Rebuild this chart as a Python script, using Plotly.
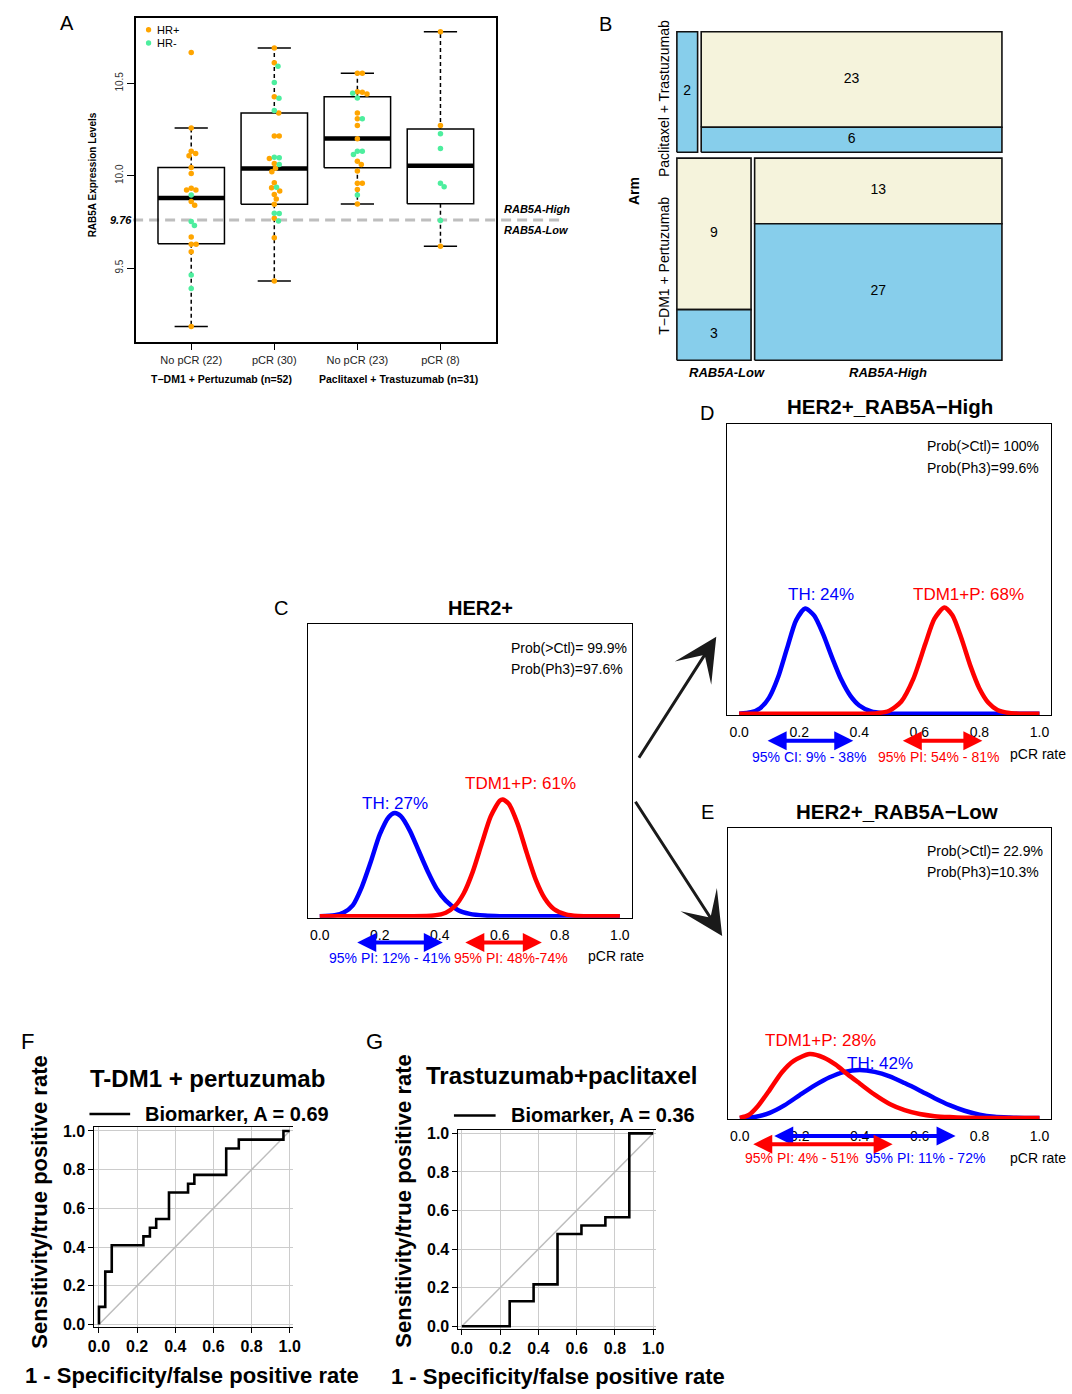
import numpy as np
import plotly.graph_objects as go

W, H = 1072, 1394
FONT = "Liberation Sans, Arial, Helvetica, sans-serif"
ORANGE = "#FFA500"
GREEN = "#4DEE9E"
BLUE = "#0000FF"
RED = "#FF0000"
BEIGE = "#F5F3DC"
SKY = "#87CEEB"


def px(x):
    return x / W


def py(y):
    return 1 - y / H


# ===================== DATA =====================
# ---- Panel A: RAB5A expression per arm / response
a_groups = ["No pCR (22)", "pCR (30)", "No pCR (23)", "pCR (8)"]
a_arms = ["T−DM1 + Pertuzumab (n=52)", "Paclitaxel + Trastuzumab (n=31)"]
a_q1 = [9.632, 9.846, 10.043, 9.849]
a_median = [9.880, 10.039, 10.202, 10.054]
a_q3 = [10.045, 10.339, 10.428, 10.253]
a_whisk_lo = [9.184, 9.430, 9.847, 9.618]
a_whisk_hi = [10.258, 10.691, 10.555, 10.780]
a_cutoff = 9.76
a_yticks = [9.5, 10.0, 10.5]

a_vals_tdm_nopcr = [10.667, 10.258, 10.132, 10.120, 10.108, 10.045, 10.012, 9.932, 9.923, 9.923, 9.896,
                    9.860, 9.840, 9.752, 9.731, 9.668, 9.629, 9.629, 9.589, 9.462, 9.389, 9.184]
a_hr_tdm_nopcr = list("++++++++++-++--++++--+")
a_vals_tdm_pcr = [10.691, 10.611, 10.593, 10.505, 10.428, 10.419, 10.353, 10.339, 10.215, 10.215, 10.100,
                  10.097, 10.093, 10.066, 10.061, 10.040, 10.022, 9.962, 9.938, 9.935, 9.917, 9.899, 9.874,
                  9.846, 9.797, 9.796, 9.770, 9.755, 9.664, 9.430]
a_hr_tdm_pcr = list("++--+--+++--++-+++-+++++--+-++")
a_vals_th_nopcr = [10.555, 10.555, 10.455, 10.452, 10.446, 10.442, 10.421, 10.340, 10.308, 10.308, 10.272,
                   10.200, 10.132, 10.132, 10.115, 10.078, 10.061, 10.025, 9.959, 9.959, 9.926, 9.896, 9.847]
a_hr_th_nopcr = list("++++-+-++-++---++++++-+")
a_vals_th_pcr = [10.780, 10.272, 10.227, 10.147, 9.959, 9.941, 9.758, 9.618]
a_hr_th_pcr = list("++-----+")

# ---- Panel B: mosaic counts  [arm][RAB5A level]
b_arms = ["Paclitaxel + Trastuzumab", "T−DM1 + Pertuzumab"]
b_levels = ["RAB5A-Low", "RAB5A-High"]
b_nopcr = [[0, 23], [9, 13]]
b_pcr = [[2, 6], [3, 27]]
b_outcome_labels = [["no pCR", "pCR"], ["No pCR", "pCR"]]

# ---- Panels C/D/E: posterior pCR-rate densities
c_th_x = [0, 0.05, 0.08, 0.11, 0.14, 0.17, 0.2, 0.23, 0.25, 0.27, 0.3, 0.33, 0.36, 0.39, 0.42, 0.46, 0.5, 0.55, 0.6, 0.8, 1.0]
c_th_y = [0, 0.05, 0.19, 0.56, 1.5, 2.8, 4.2, 5.1, 5.3, 5.14, 4.4, 3.35, 2.3, 1.4, 0.8, 0.32, 0.12, 0.03, 0, 0, 0]
c_tdm_x = [0, 0.3, 0.38, 0.42, 0.45, 0.48, 0.51, 0.54, 0.57, 0.6, 0.61, 0.63, 0.66, 0.69, 0.72, 0.75, 0.78, 0.82, 0.86, 0.9, 1.0]
c_tdm_y = [0, 0, 0.04, 0.18, 0.51, 1.18, 2.29, 3.74, 5.14, 5.94, 6.0, 5.77, 4.72, 3.24, 1.87, 0.91, 0.37, 0.09, 0.01, 0, 0]

d_th_x = [0, 0.04, 0.07, 0.1, 0.13, 0.16, 0.19, 0.22, 0.25, 0.28, 0.31, 0.34, 0.37, 0.4, 0.44, 0.48, 0.52, 0.6, 1.0]
d_th_y = [0, 0.08, 0.29, 0.84, 1.9, 3.41, 4.85, 5.45, 5.08, 4.11, 2.89, 1.77, 0.94, 0.43, 0.12, 0.03, 0, 0, 0]
d_tdm_x = [0, 0.4, 0.46, 0.5, 0.54, 0.58, 0.62, 0.65, 0.683, 0.71, 0.74, 0.77, 0.8, 0.83, 0.86, 0.9, 0.95, 1.0]
d_tdm_y = [0, 0, 0.03, 0.16, 0.64, 1.81, 3.62, 4.91, 5.5, 5.1, 3.91, 2.48, 1.31, 0.57, 0.2, 0.04, 0, 0]

e_th_x = [0, 0.05, 0.1, 0.15, 0.2, 0.25, 0.3, 0.35, 0.4, 0.45, 0.5, 0.55, 0.6, 0.65, 0.7, 0.75, 0.8, 0.85, 0.9, 0.95, 1.0]
e_th_y = [0, 0.05, 0.26, 0.66, 1.18, 1.68, 2.1, 2.38, 2.47, 2.38, 2.15, 1.8, 1.42, 1.02, 0.66, 0.37, 0.17, 0.06, 0.02, 0, 0]
e_tdm_x = [0, 0.03, 0.06, 0.1, 0.14, 0.18, 0.233, 0.28, 0.32, 0.36, 0.4, 0.45, 0.5, 0.55, 0.6, 0.65, 0.7, 0.75, 0.8, 1.0]
e_tdm_y = [0, 0.15, 0.6, 1.45, 2.35, 2.95, 3.3, 3.12, 2.75, 2.25, 1.78, 1.2, 0.72, 0.4, 0.2, 0.09, 0.04, 0.01, 0, 0]

c_th_int = [0.12, 0.41]
c_tdm_int = [0.48, 0.74]
d_th_int = [0.09, 0.38]
d_tdm_int = [0.54, 0.81]
e_th_int = [0.11, 0.72]
e_tdm_int = [0.04, 0.51]

dist_ticks = [0.0, 0.2, 0.4, 0.6, 0.8, 1.0]

# ---- Panels F/G: ROC curves
f_fpr = [0.0, 0.033, 0.067, 0.233, 0.267, 0.300, 0.367, 0.467, 0.500, 0.667, 0.733, 0.967, 1.0]
f_tpr = [0.0, 0.091, 0.273, 0.409, 0.455, 0.500, 0.545, 0.682, 0.727, 0.773, 0.909, 0.955, 1.0]
g_fpr = [0.0, 0.25, 0.375, 0.5, 0.625, 0.75, 0.875, 1.0]
g_tpr = [0.0, 0.13, 0.217, 0.478, 0.522, 0.565, 1.0, 1.0]
roc_auc = [0.69, 0.36]
roc_ticks = [0.0, 0.2, 0.4, 0.6, 0.8, 1.0]

# ===================== FIGURE =====================
fig = go.Figure()
ann = []
shapes = []


def label(x, y, text, size, color="black", bold=False, italic=False, xanchor="center",
          yanchor="middle", angle=0):
    t = text
    if bold:
        t = "<b>" + t + "</b>"
    if italic:
        t = "<i>" + t + "</i>"
    ann.append(dict(x=px(x), y=py(y), xref="paper", yref="paper", text=t, showarrow=False,
                    font=dict(size=size, color=color, family=FONT), xanchor=xanchor,
                    yanchor=yanchor, textangle=angle))


# ---------- Panel A ----------
A_DOM_X = (130, 495)
A_DOM_Y = (12.7, 339.3)
A_RX = (0.336, 4.664)
A_RY = (9.102, 10.856)

bx, by, wx, wy, cx, cy, mx, my = [], [], [], [], [], [], [], []
for i in range(4):
    g = i + 1
    bx += [g - 0.4, g + 0.4, g + 0.4, g - 0.4, g - 0.4, None]
    by += [a_q1[i], a_q1[i], a_q3[i], a_q3[i], a_q1[i], None]
    wx += [g, g, None, g, g, None]
    wy += [a_q3[i], a_whisk_hi[i], None, a_q1[i], a_whisk_lo[i], None]
    cx += [g - 0.2, g + 0.2, None, g - 0.2, g + 0.2, None]
    cy += [a_whisk_hi[i], a_whisk_hi[i], None, a_whisk_lo[i], a_whisk_lo[i], None]
    mx += [g - 0.4, g + 0.4, None]
    my += [a_median[i], a_median[i], None]

common = dict(mode="lines", showlegend=False, hoverinfo="skip", xaxis="x", yaxis="y")
fig.add_trace(go.Scatter(x=wx, y=wy, line=dict(color="black", width=1.5, dash="4px,3px"), **common))
fig.add_trace(go.Scatter(x=cx, y=cy, line=dict(color="black", width=1.5), **common))
fig.add_trace(go.Scatter(x=bx, y=by, line=dict(color="black", width=1.5), **common))
fig.add_trace(go.Scatter(x=mx, y=my, line=dict(color="black", width=4.5), **common))

y_scale = (A_DOM_Y[1] - A_DOM_Y[0]) / (A_RY[1] - A_RY[0])
x_scale = (A_DOM_X[1] - A_DOM_X[0]) / (A_RX[1] - A_RX[0])


def swarm_offsets(vals, ys, xs, diam=5.0):
    vals = np.asarray(vals, float)
    order = np.argsort(-vals, kind="stable")
    steps = [0.0]
    for k in range(1, 200):
        steps += [k * 0.25, -k * 0.25]
    placed = []
    offs = np.zeros(len(vals))
    for i in order:
        y = vals[i] * ys
        chosen = 0.0
        for s in steps:
            if all((s - xo) ** 2 + (y - yo) ** 2 >= diam ** 2 for xo, yo in placed):
                chosen = s
                break
        placed.append((chosen, y))
        offs[i] = chosen / xs
    return offs


a_all_vals = [a_vals_tdm_nopcr, a_vals_tdm_pcr, a_vals_th_nopcr, a_vals_th_pcr]
a_all_hr = [a_hr_tdm_nopcr, a_hr_tdm_pcr, a_hr_th_nopcr, a_hr_th_pcr]
pts = {"+": ([], []), "-": ([], [])}
for gi, (vals, hrs) in enumerate(zip(a_all_vals, a_all_hr)):
    offs = swarm_offsets(vals, y_scale, x_scale)
    for v, h, o in zip(vals, hrs, offs):
        pts[h][0].append(gi + 1 + o)
        pts[h][1].append(v)
for h, col, nm in [("+", ORANGE, "HR+"), ("-", GREEN, "HR-")]:
    fig.add_trace(go.Scatter(x=pts[h][0], y=pts[h][1], mode="markers", name=nm,
                             marker=dict(color=col, size=5.5, line=dict(width=0)),
                             xaxis="x", yaxis="y", showlegend=False, hoverinfo="skip"))

shapes.append(dict(type="line", xref="paper", yref="y", x0=px(127), x1=px(560), y0=a_cutoff, y1=a_cutoff,
                   line=dict(color="#BEBEBE", width=3, dash="10px,6px"), layer="below"))
for yy, col, nm in [(25, ORANGE, "HR+"), (38.3, GREEN, "HR-")]:
    shapes.append(dict(type="circle", xref="paper", yref="paper", x0=px(140), x1=px(145.4),
                       y0=py(yy + 2.7), y1=py(yy - 2.7), fillcolor=col, line=dict(width=0)))
    label(149.5, yy, nm, 11, xanchor="left")

label(60, 18, "A", 20)
label(86, 171, "RAB5A Expression Levels", 10, bold=True, angle=-90)
label(115, 217, "9.76", 11, bold=True, italic=True)
label(501, 206, "RAB5A-High", 11, bold=True, italic=True, xanchor="left")
label(501, 226.7, "RAB5A-Low", 11, bold=True, italic=True, xanchor="left")
label(216.7, 376.7, a_arms[0], 10.5, bold=True)
label(396.7, 376.7, a_arms[1], 10.5, bold=True)

# ---------- Panel B ----------
N_tot = sum(sum(r) for r in b_nopcr) + sum(sum(r) for r in b_pcr)
gap_r, gap_c = 0.018, 0.011
y_top = 1.0
tx, ty, tt = [], [], []
for a in range(2):
    n_arm = sum(b_nopcr[a]) + sum(b_pcr[a])
    h = (1 - gap_r) * n_arm / N_tot
    y_bot = y_top - h
    x_left = 0.0
    for l in range(2):
        n_al = b_nopcr[a][l] + b_pcr[a][l]
        w = (1 - gap_c) * n_al / n_arm
        x0, x1 = x_left, x_left + w
        y_split = y_top - h * b_nopcr[a][l] / n_al
        for (ya, yb, n, col) in [(y_split, y_top, b_nopcr[a][l], BEIGE), (y_bot, y_split, b_pcr[a][l], SKY)]:
            if n == 0:
                continue
            fig.add_trace(go.Scatter(x=[x0, x1, x1, x0, x0], y=[ya, ya, yb, yb, ya], mode="lines",
                                     fill="toself", fillcolor=col, line=dict(color="#111111", width=1.6),
                                     xaxis="x2", yaxis="y2", showlegend=False, hoverinfo="skip"))
            tx.append((x0 + x1) / 2)
            ty.append((ya + yb) / 2)
            tt.append(str(n))
        if l == 1:
            for (ya, yb, lab) in [(y_split, y_top, b_outcome_labels[a][0]), (y_bot, y_split, b_outcome_labels[a][1])]:
                ann.append(dict(x=1.036, y=(ya + yb) / 2, xref="x2", yref="y2", text=lab, showarrow=False,
                                textangle=-90, font=dict(size=14, family=FONT, color="black")))
        x_left = x1 + gap_c
    y_top = y_bot - gap_r
fig.add_trace(go.Scatter(x=tx, y=ty, text=tt, mode="text", textfont=dict(size=14, family=FONT, color="black"),
                         xaxis="x2", yaxis="y2", showlegend=False, hoverinfo="skip"))

label(607, 19, "B", 20)
label(635, 188, "Arm", 14, bold=True, angle=-90)
label(665.7, 94, b_arms[0], 14, angle=-90)
label(665.7, 263, b_arms[1], 14, angle=-90)
label(730, 370, b_levels[0], 13, bold=True, italic=True)
label(893, 370, b_levels[1], 13, bold=True, italic=True)

# ---------- Panels C / D / E ----------
dist_panels = [
    ("3", c_th_x, c_th_y, c_tdm_x, c_tdm_y),
    ("4", d_th_x, d_th_y, d_tdm_x, d_tdm_y),
    ("5", e_th_x, e_th_y, e_tdm_x, e_tdm_y),
]
for k, thx, thy, tdx, tdy in dist_panels:
    for xx, yy, col in [(thx, thy, BLUE), (tdx, tdy, RED)]:
        fig.add_trace(go.Scatter(x=xx, y=yy, mode="lines", line=dict(color=col, width=4.5, shape="spline",
                                                                     smoothing=0.7),
                                 xaxis="x" + k, yaxis="y" + k, showlegend=False, hoverinfo="skip"))


def dbl_arrow(k, ydom, lo, hi, color):
    ann.append(dict(x=hi, y=ydom, ax=lo, ay=ydom, xref="x" + k, yref="y%s domain" % k,
                    axref="x" + k, ayref="y%s domain" % k, text="", showarrow=True,
                    arrowhead=2, startarrowhead=2, arrowside="end+start", arrowsize=0.95,
                    startarrowsize=0.95, arrowwidth=4, arrowcolor=color, standoff=0, startstandoff=0))


dbl_arrow("3", -0.0845, c_th_int[0], c_th_int[1], BLUE)
dbl_arrow("3", -0.0845, c_tdm_int[0], c_tdm_int[1], RED)
dbl_arrow("4", -0.0875, d_th_int[0], d_th_int[1], BLUE)
dbl_arrow("4", -0.0875, d_tdm_int[0], d_tdm_int[1], RED)
dbl_arrow("5", -0.057, e_th_int[0], e_th_int[1], BLUE)
dbl_arrow("5", -0.085, e_tdm_int[0], e_tdm_int[1], RED)

# C labels
label(277, 608.3, "C", 20)
label(480, 608.3, "HER2+", 20, bold=True)
label(509, 647.7, "Prob(>Ctl)= 99.9%", 14, xanchor="left")
label(509, 669, "Prob(Ph3)=97.6%", 14, xanchor="left")
label(392.7, 805, "TH: 27%", 17, color=BLUE)
label(520, 784.3, "TDM1+P: 61%", 17, color=RED)
label(387.5, 961, "95% PI: 12% - 41%", 14, color=BLUE)
label(511, 961, "95% PI: 48%-74%", 14, color=RED)
label(617, 958.3, "pCR rate", 14)

# D labels
label(710, 411.7, "D", 20)
label(895.8, 405, "HER2+_RAB5A−High", 20.5, bold=True)
label(931, 444.3, "Prob(>Ctl)= 100%", 14, xanchor="left")
label(931, 467, "Prob(Ph3)=99.6%", 14, xanchor="left")
label(825, 594, "TH: 24%", 17, color=BLUE)
label(975, 594, "TDM1+P: 68%", 17, color=RED)
label(812.7, 758, "95% CI: 9% - 38%", 14, color=BLUE)
label(945, 758, "95% PI: 54% - 81%", 14, color=RED)
label(1015, 755, "pCR rate", 14, xanchor="left")

# E labels
label(710, 813.3, "E", 20)
label(902, 813, "HER2+_RAB5A−Low", 20.5, bold=True)
label(931, 852.3, "Prob(>Ctl)= 22.9%", 14, xanchor="left")
label(931, 874, "Prob(Ph3)=10.3%", 14, xanchor="left")
label(825, 1043.3, "TDM1+P: 28%", 17, color=RED)
label(885.7, 1066.7, "TH: 42%", 17, color=BLUE)
label(806, 1162.3, "95% PI: 4% - 51%", 14, color=RED)
label(930.7, 1162.3, "95% PI: 11% - 72%", 14, color=BLUE)
label(1015, 1161.7, "pCR rate", 14, xanchor="left")

# big black arrows C -> D, C -> E
for (tipx, tipy, tailx, taily) in [(719, 636.7, 640.7, 759.3), (725, 938.3, 637.3, 802.7)]:
    ann.append(dict(x=px(tipx), y=py(tipy), xref="paper", yref="paper", ax=tailx - tipx, ay=taily - tipy,
                    axref="pixel", ayref="pixel", text="", showarrow=True, arrowhead=3, arrowsize=2.4,
                    arrowwidth=3, arrowcolor="#1a1a1a", standoff=0))

# ---------- Panels F / G ----------
fig.add_trace(go.Scatter(x=[0, 1], y=[0, 1], mode="lines", line=dict(color="#BDBDBD", width=1.5),
                         xaxis="x6", yaxis="y6", showlegend=False, hoverinfo="skip"))
fig.add_trace(go.Scatter(x=f_fpr, y=f_tpr, mode="lines", line=dict(color="black", width=2.6, shape="vh"),
                         xaxis="x6", yaxis="y6", showlegend=False, hoverinfo="skip"))
fig.add_trace(go.Scatter(x=[0, 1], y=[0, 1], mode="lines", line=dict(color="#BDBDBD", width=1.5),
                         xaxis="x7", yaxis="y7", showlegend=False, hoverinfo="skip"))
fig.add_trace(go.Scatter(x=g_fpr, y=g_tpr, mode="lines", line=dict(color="black", width=2.6, shape="hv"),
                         xaxis="x7", yaxis="y7", showlegend=False, hoverinfo="skip"))

label(20, 1045, "F", 22)
label(372, 1045, "G", 22)
label(202.5, 1082, "T-DM1 + pertuzumab", 24, bold=True)
label(561.7, 1079, "Trastuzumab+paclitaxel", 24, bold=True)
shapes.append(dict(type="line", xref="paper", yref="paper", x0=px(82.7), x1=px(124), y0=py(1117.7),
                   y1=py(1117.7), line=dict(color="black", width=2.5)))
shapes.append(dict(type="line", xref="paper", yref="paper", x0=px(452.7), x1=px(495), y0=py(1119.3),
                   y1=py(1119.3), line=dict(color="black", width=2.5)))
label(137.3, 1117.7, "Biomarker, A = %.2f" % roc_auc[0], 20, bold=True, xanchor="left")
label(508.3, 1119.3, "Biomarker, A = %.2f" % roc_auc[1], 20, bold=True, xanchor="left")
label(31.7, 1207, "Sensitivity/true positive rate", 22, bold=True, angle=-90)
label(401.7, 1205.5, "Sensitivity/true positive rate", 22, bold=True, angle=-90)
label(186.7, 1381, "1 - Specificity/false positive rate", 22, bold=True)
label(558, 1382, "1 - Specificity/false positive rate", 22, bold=True)

# ===================== AXES =====================
def dom_x(l, r):
    return [px(l), px(r)]


def dom_y(t, b):
    return [py(b), py(t)]


base = dict(showgrid=False, zeroline=False)
layout_axes = {}
layout_axes["xaxis"] = dict(base, domain=dom_x(*A_DOM_X), range=list(A_RX), anchor="y",
                            tickvals=[1, 2, 3, 4], ticktext=a_groups, ticks="outside", ticklen=7,
                            tickcolor="black", showline=True, mirror=True, linecolor="black", linewidth=1.5,
                            tickfont=dict(size=11, family=FONT, color="#222"))
layout_axes["yaxis"] = dict(base, domain=dom_y(*A_DOM_Y), range=list(A_RY), anchor="x",
                            tickvals=a_yticks, ticktext=["%.1f" % v for v in a_yticks], tickangle=-90,
                            ticks="outside", ticklen=7, tickcolor="black", showline=True, mirror=True,
                            linecolor="black", linewidth=1.5, tickfont=dict(size=10, family=FONT, color="#333"))
# B
layout_axes["xaxis2"] = dict(base, domain=dom_x(674, 1014), range=[-5 / 330, 1 + 5 / 330], anchor="y2",
                             showticklabels=False, ticks="", showline=False)
layout_axes["yaxis2"] = dict(base, domain=dom_y(22, 363), range=[-5 / 331, 1 + 5 / 331], anchor="x2",
                             showticklabels=False, ticks="", showline=False)
# C/D/E
dist_dom = {"3": ((304.3, 633.3), (624.3, 920)),
            "4": ((730, 1059.3), (422.3, 716)),
            "5": ((730.7, 1059.3), (829.3, 1123.3))}
for k, ((l, r), (t, b)) in dist_dom.items():
    layout_axes["xaxis" + k] = dict(base, domain=dom_x(l, r), range=[-0.04, 1.04], anchor="y" + k,
                                    tickvals=dist_ticks, ticktext=["%.1f" % v for v in dist_ticks], ticks="",
                                    showline=True, mirror=True, linecolor="black", linewidth=1.3,
                                    ticklabelstandoff=4, tickfont=dict(size=14, family=FONT, color="black"))
    layout_axes["yaxis" + k] = dict(base, domain=dom_y(t, b), range=[-0.08, 15], anchor="x" + k,
                                    showticklabels=False, ticks="", showline=True, mirror=True,
                                    linecolor="black", linewidth=1.3)
# F/G
roc_dom = {"6": ((87.7, 289.3), (1131, 1332.3), [-0.024, 1.017], [-0.012, 1.02]),
           "7": ((457.3, 658.3), (1134, 1334.3), [-0.0175, 1.017], [-0.013, 1.017])}
for k, ((l, r), (t, b), rx, ry) in roc_dom.items():
    common_ax = dict(showgrid=True, gridcolor="#CCCCCC", gridwidth=1, zeroline=False, tickvals=roc_ticks,
                     ticktext=["%.1f" % v for v in roc_ticks], ticks="outside", ticklen=5, tickcolor="black",
                     showline=True, linecolor="black", linewidth=1,
                     tickfont=dict(size=16, family=FONT, color="black", weight="bold"))
    layout_axes["xaxis" + k] = dict(common_ax, domain=dom_x(l, r), range=rx, anchor="y" + k, mirror=True)
    layout_axes["yaxis" + k] = dict(common_ax, domain=dom_y(t, b), range=ry, anchor="x" + k, mirror=False)

fig.update_layout(
    width=W, height=H, margin=dict(l=0, r=0, t=0, b=0),
    paper_bgcolor="white", plot_bgcolor="rgba(0,0,0,0)",
    font=dict(family=FONT, color="black"),
    showlegend=False, annotations=ann, shapes=shapes,
    **layout_axes,
)

fig.write_html(
    "out.html",
    config={"displayModeBar": False},
    post_script="document.documentElement.style.margin='0';document.body.style.margin='0';"
                "document.body.style.padding='0';document.body.style.overflow='hidden';",
)
